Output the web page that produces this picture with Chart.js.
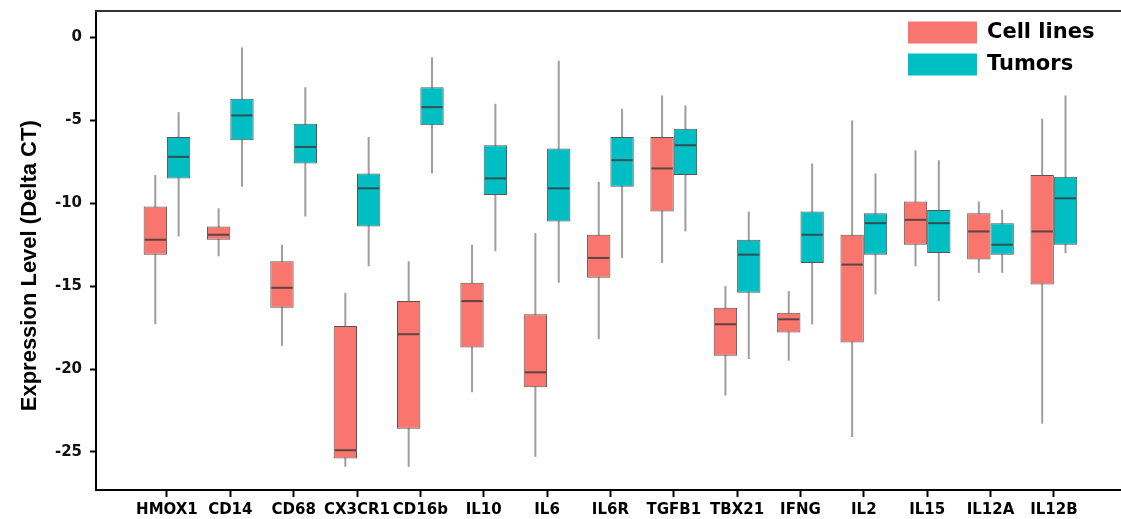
<!DOCTYPE html>
<html>
<head>
<meta charset="utf-8">
<title>Expression Level (Delta CT)</title>
<script src="https://cdn.jsdelivr.net/npm/chart.js@4.4.0/dist/chart.umd.min.js"></script>
<style>
  html,body{margin:0;padding:0;background:#fff;}
  #wrap{width:1121px;height:519px;}
</style>
</head>
<body>
<div id="wrap"><canvas id="boxChart"></canvas></div>
<script>
// genes along the x axis
const genes = ['HMOX1','CD14','CD68','CX3CR1','CD16b','IL10','IL6','IL6R','TGFB1','TBX21','IFNG','IL2','IL15','IL12A','IL12B'];
const yTicks = [0, -5, -10, -15, -20, -25];

// cell lines: whisker low, q1, median, q3, whisker high
const cellMin = [-17.3, -13.2, -18.6, -25.9, -25.9, -21.4, -25.3, -18.2, -13.6, -21.6, -19.5, -24.1, -13.8, -14.2, -23.3];
const cellQ1  = [-13.1, -12.2, -16.3, -25.4, -23.6, -18.7, -21.1, -14.5, -10.5, -19.2, -17.8, -18.4, -12.5, -13.4, -14.9];
const cellMed = [-12.2, -11.9, -15.1, -24.9, -17.9, -15.9, -20.2, -13.3,  -7.9, -17.3, -17.0, -13.7, -11.0, -11.7, -11.7];
const cellQ3  = [-10.2, -11.4, -13.5, -17.4, -15.9, -14.8, -16.7, -11.9,  -6.0, -16.3, -16.6, -11.9,  -9.9, -10.6,  -8.3];
const cellMax = [ -8.3, -10.3, -12.5, -15.4, -13.5, -12.5, -11.8,  -8.7,  -3.5, -15.0, -15.3,  -5.0,  -6.8,  -9.9,  -4.9];

// tumors
const tumMin = [-12.0,  -9.0, -10.8, -13.8,  -8.2, -12.9, -14.8, -13.3, -11.7, -19.4, -17.3, -15.5, -15.9, -14.2, -13.0];
const tumQ1  = [ -8.5,  -6.2,  -7.6, -11.4,  -5.3,  -9.5, -11.1,  -9.0,  -8.3, -15.4, -13.6, -13.1, -13.0, -13.1, -12.5];
const tumMed = [ -7.2,  -4.7,  -6.6,  -9.1,  -4.2,  -8.5,  -9.1,  -7.4,  -6.5, -13.1, -11.9, -11.2, -11.2, -12.5,  -9.7];
const tumQ3  = [ -6.0,  -3.7,  -5.2,  -8.2,  -3.0,  -6.5,  -6.7,  -6.0,  -5.5, -12.2, -10.5, -10.6, -10.4, -11.2,  -8.4];
const tumMax = [ -4.5,  -0.6,  -3.0,  -6.0,  -1.2,  -4.0,  -1.4,  -4.3,  -4.1, -10.5,  -7.6,  -8.2,  -7.4, -10.4,  -3.5];

const RED = '#F8766D', TEAL = '#00BFC4';

function floating(lo, hi){
  return genes.map((g, i) => ({ x: i, y: [lo[i], hi[i]] }));
}

// median line across each box
const medianLines = {
  id: 'medianLines',
  afterDatasetsDraw(chart){
    const ctx = chart.ctx, y = chart.scales.y;
    chart.data.datasets.forEach((ds, i) => {
      if(!ds.medians) return;
      const meta = chart.getDatasetMeta(i);
      ctx.save();
      ctx.strokeStyle = 'rgba(55,55,55,0.8)';
      ctx.lineWidth = 2;
      meta.data.forEach((bar, j) => {
        const py = y.getPixelForValue(ds.medians[j]);
        ctx.beginPath();
        ctx.moveTo(bar.x - bar.width/2 + 1, py);
        ctx.lineTo(bar.x + bar.width/2 - 1, py);
        ctx.stroke();
      });
      ctx.restore();
    });
  }
};

// top frame line
const topFrame = {
  id: 'topFrame',
  afterDraw(chart){
    const ctx = chart.ctx, a = chart.chartArea;
    ctx.save();
    ctx.strokeStyle = '#333'; ctx.lineWidth = 2;
    ctx.beginPath(); ctx.moveTo(a.left - 1, a.top); ctx.lineTo(chart.width, a.top); ctx.stroke();
    ctx.restore();
  }
};

// legend in the top right corner of the plot
const boxLegend = {
  id: 'boxLegend',
  afterDraw(chart){
    const ctx = chart.ctx, x0 = chart.chartArea.right - 213;
    ctx.save();
    chart.data.datasets.filter(d => d.medians).forEach((ds, k) => {
      const top = 21.5 + k * 32;
      ctx.fillStyle = ds.backgroundColor;
      ctx.fillRect(x0, top, 69, 22);
      ctx.fillStyle = '#000';
      ctx.font = 'bold 21px "DejaVu Sans"';
      ctx.textBaseline = 'middle';
      ctx.fillText(ds.label, x0 + 79, top + 11);
    });
    ctx.restore();
  }
};

new Chart(document.getElementById('boxChart'), {
  type: 'bar',
  data: {
    datasets: [
      { label: 'Cell lines', stack: 'cell', order: 1, data: floating(cellQ1, cellQ3), medians: cellMed,
        backgroundColor: RED, borderColor: '#555', borderWidth: 1, borderSkipped: false },
      { label: 'Tumors', stack: 'tumor', order: 1, data: floating(tumQ1, tumQ3), medians: tumMed,
        backgroundColor: TEAL, borderColor: '#555', borderWidth: 1, borderSkipped: false },
      { label: 'Cell lines range', stack: 'cell', order: 2, data: floating(cellMin, cellMax),
        backgroundColor: '#9e9e9e', borderWidth: 0, maxBarThickness: 2 },
      { label: 'Tumors range', stack: 'tumor', order: 2, data: floating(tumMin, tumMax),
        backgroundColor: '#9e9e9e', borderWidth: 0, maxBarThickness: 2 }
    ]
  },
  options: {
    responsive: true,
    maintainAspectRatio: false,
    animation: false,
    layout: { padding: { top: 11, left: 0, right: 0, bottom: 0 } },
    datasets: { bar: { categoryPercentage: 0.737, barPercentage: 1 } },
    plugins: { legend: { display: false }, tooltip: { enabled: false } },
    scales: {
      x: {
        type: 'linear', min: -1.12, max: 15.06, offset: false,
        grid: { display: true, offset: false, drawOnChartArea: false, drawTicks: true, tickLength: 7, tickWidth: 2, tickColor: '#000' },
        border: { display: true, color: '#000', width: 2 },
        ticks: {
          autoSkip: false, maxRotation: 0, padding: 4, color: '#000',
          font: { family: 'DejaVu Sans', weight: 'bold', size: 15 },
          callback: v => genes[v]
        },
        afterBuildTicks: s => { s.ticks = genes.map((g, i) => ({ value: i })); },
        afterFit: s => { s.height = 29; s.paddingLeft = 0; s.paddingRight = 0; }
      },
      y: {
        min: -27.3, max: 1.6, stacked: false,
        grid: { display: true, drawOnChartArea: false, drawTicks: true, tickLength: 6, tickWidth: 2, tickColor: '#000' },
        border: { display: true, color: '#000', width: 2 },
        ticks: { padding: 8, color: '#111', font: { family: 'DejaVu Sans', weight: 'bold', size: 15 } },
        afterBuildTicks: s => { s.ticks = yTicks.map(v => ({ value: v })); },
        afterFit: s => { s.width = 96; s.paddingTop = 0; s.paddingBottom = 0; },
        title: {
          display: true,
          text: 'Expression Level (Delta CT)     ',
          color: '#000',
          padding: { top: 17, bottom: 0 },
          font: { family: 'Liberation Sans', weight: 'bold', size: 22 }
        }
      }
    }
  },
  plugins: [medianLines, topFrame, boxLegend]
});
</script>
</body>
</html>
